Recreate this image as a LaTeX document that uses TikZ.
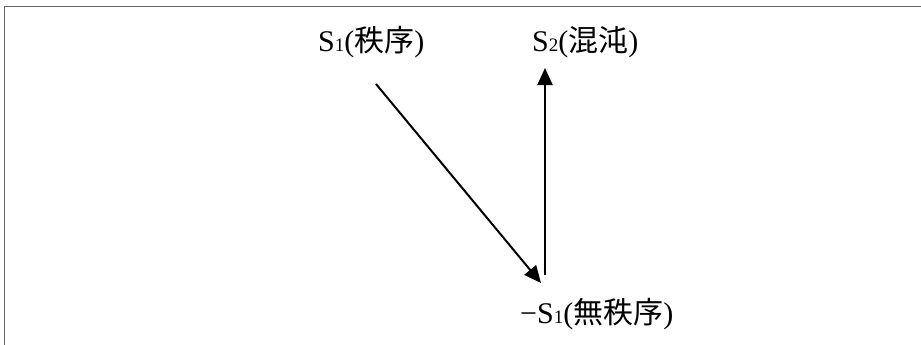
\documentclass[tikz,border=0pt]{standalone}
\usepackage{fontspec}
\setmainfont{Liberation Serif}
\newfontfamily\cjk{Noto Sans CJK JP}
\usetikzlibrary{arrows.meta}
\tikzset{
  lbl/.style={anchor=base west, inner sep=0pt, font=\fontsize{30}{32}\selectfont},
  conn/.style={line width=2pt, -{Triangle[length=17pt,width=15pt]}},
  frame/.style={draw=black!60, line width=1.5pt}
}
\newcommand{\subone}[1]{{\fontsize{19}{20}\selectfont #1}}
\begin{document}
\begin{tikzpicture}[x=1pt,y=-1pt]
\useasboundingbox (0,0) rectangle (921,345);
\draw[frame] (4.5,345) -- (4.5,6.5) -- (921,6.5);
\node[lbl] (s1) at (318,52) {S\subone{1}({\cjk 秩序})};
\node[lbl] (s2) at (532,52) {S\subone{2}({\cjk 混沌})};
\node[lbl] (ns1) at (520,323) {−S\subone{1}({\cjk 無秩序})};
\coordinate (a1s) at (376,84);
\coordinate (a1e) at (541,283);
\coordinate (a2s) at (545,275);
\coordinate (a2e) at (545,68);
\draw[conn] (a1s) -- (a1e);
\draw[conn] (a2s) -- (a2e);
\end{tikzpicture}
\end{document}
